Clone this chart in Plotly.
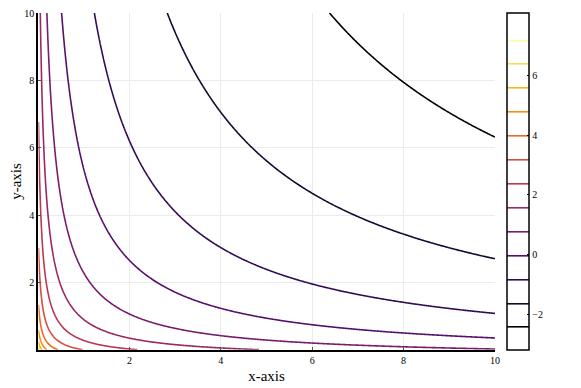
import numpy as np
import plotly.graph_objects as go

# grid (x and y run over 0..10 as in the picture)
x_vals = np.linspace(0.01, 10, 400)
y_vals = np.linspace(0.01, 10, 400)

# field: z = C - ln(x*y + B*x + A*y)
field_c = 1.79
field_a = 0.07
field_b = 0.24

# contour levels and colour range
level_start = -2.4
level_end = 7.2
level_step = 0.8
color_min = -3.19
color_max = 8.09

tick_vals = [2, 4, 6, 8, 10]
cbar_ticks = [-2, 0, 2, 4, 6]

X, Y = np.meshgrid(x_vals, y_vals)
Z = field_c - np.log(X * Y + field_b * X + field_a * Y)

fig = go.Figure()

fig.add_trace(go.Contour(
    x=x_vals,
    y=y_vals,
    z=Z,
    colorscale='Inferno',
    zauto=False,
    zmin=color_min,
    zmax=color_max,
    contours=dict(start=level_start, end=level_end, size=level_step,
                  coloring='lines'),
    line=dict(width=1.6, smoothing=1),
    colorbar=dict(
        x=1.026, xanchor='left', xpad=0,
        y=0, yanchor='bottom', ypad=0, len=1,
        thickness=22,
        outlinewidth=1.5, outlinecolor='black',
        tickvals=cbar_ticks,
        ticks='inside', ticklen=2, tickcolor='black',
        tickfont=dict(family='Liberation Serif', size=10, color='black'),
    ),
    hoverinfo='skip',
))

axis_style = dict(
    range=[0, 10],
    tickvals=tick_vals,
    automargin=False,
    ticklabeloverflow='allow',
    showgrid=True, gridcolor='#ebebeb', gridwidth=0.8,
    zeroline=False,
    showline=True, linecolor='black', linewidth=1.6,
    ticks='inside', ticklen=3, tickcolor='#555',
    tickfont=dict(family='Liberation Serif', size=10, color='black'),
    title_font=dict(family='Liberation Serif', size=15, color='black'),
)

# the page body adds an 8px margin, so the figure is drawn 8px smaller
fig.update_layout(
    width=573, height=380,
    margin=dict(l=29.5, r=86, t=5, b=38, autoexpand=False),
    paper_bgcolor='white',
    plot_bgcolor='white',
    xaxis=dict(axis_style, title=dict(text='x-axis', standoff=6)),
    yaxis=dict(axis_style, title=dict(text='y-axis', standoff=12)),
    showlegend=False,
)

fig.write_html("out.html")
